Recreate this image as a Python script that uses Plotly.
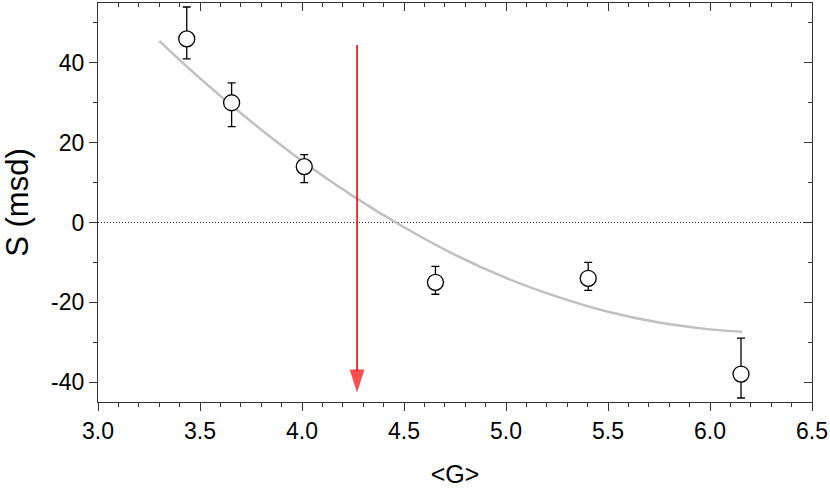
import plotly.graph_objects as go

# data points
g_vals = [3.435, 3.655, 4.011, 4.654, 5.403, 6.152]
s_vals = [46, 30, 14, -15, -14, -38]
err_plus = [8, 5, 3, 4, 4, 9]
err_minus = [5, 6, 4, 3, 3, 6]

# fitted curve
curve_x = [3.3, 3.5, 3.75, 4.0, 4.25, 4.5, 4.75, 5.0, 5.25, 5.5, 5.75, 6.0, 6.157]
curve_y = [45.5, 36.1, 25.3, 15.4, 6.6, -1.2, -8.1, -13.9, -18.6, -22.4, -25.1, -26.8, -27.4]

# arrow
arrow_x = [4.27, 4.27]
arrow_y = [44.5, -42.6]

x_range = [3.0, 6.5]
y_range = [-45, 55]
x_ticks = [3.0, 3.5, 4.0, 4.5, 5.0, 5.5, 6.0, 6.5]
x_ticklabels = ["3.0", "3.5", "4.0", "4.5", "5.0", "5.5", "6.0", "6.5"]
y_ticks = [-40, -20, 0, 20, 40]
y_ticklabels = ["-40", "-20", "0", "20", "40"]

font_family = "Liberation Sans, Arial, sans-serif"

fig = go.Figure()

# zero dotted line
fig.add_trace(go.Scatter(x=x_range, y=[0, 0], mode="lines",
                         line=dict(color="#222222", width=1, dash="1px,2px"),
                         hoverinfo="skip", showlegend=False))

# curve
fig.add_trace(go.Scatter(x=curve_x, y=curve_y, mode="lines", line_shape="spline",
                         line=dict(color="#c0c0c0", width=2.5), showlegend=False))

# red arrow
fig.add_trace(go.Scatter(x=arrow_x, y=arrow_y, mode="lines+markers",
                         line=dict(color="#ff0000", width=1.6),
                         marker=dict(symbol=["circle", "arrow"], size=[0, 24],
                                     angleref="previous", color="#ff0000",
                                     line=dict(width=0)),
                         hoverinfo="skip", showlegend=False))

# data points
fig.add_trace(go.Scatter(
    x=g_vals, y=s_vals, mode="markers",
    marker=dict(symbol="circle", size=16, color="white",
                line=dict(color="black", width=1.3)),
    error_y=dict(type="data", symmetric=False, array=err_plus, arrayminus=err_minus,
                 color="black", thickness=1.3, width=4),
    showlegend=False))

# invisible traces for mirror axes
fig.add_trace(go.Scatter(x=x_range, y=y_range, xaxis="x2", yaxis="y2", mode="markers",
                         marker=dict(opacity=0), hoverinfo="skip", showlegend=False))

axis_common = dict(showline=True, linecolor="#333333", linewidth=1.3, showgrid=False,
                   zeroline=False, tickcolor="#333333", tickwidth=1.3, automargin=False)

fig.update_layout(
    width=830, height=488,
    margin=dict(l=98, r=18, t=3, b=86),
    paper_bgcolor="white", plot_bgcolor="white",
    font=dict(family=font_family, color="black", size=23),
    xaxis=dict(range=x_range, tickvals=x_ticks, ticktext=x_ticklabels,
               ticks="outside", ticklen=8, tickfont=dict(size=23),
               minor=dict(dtick=0.1, ticks="outside", ticklen=4, tickcolor="#333333", tickwidth=1.3),
               title=dict(text="&lt;G&gt;", font=dict(size=25), standoff=22),
               **axis_common),
    yaxis=dict(range=y_range, tickvals=y_ticks, ticktext=y_ticklabels,
               ticks="outside", ticklen=8, tickfont=dict(size=23),
               minor=dict(dtick=10, ticks="outside", ticklen=4, tickcolor="#333333", tickwidth=1.3),
               title=dict(text="S (msd)", font=dict(size=31), standoff=15),
               **axis_common),
    xaxis2=dict(range=x_range, overlaying="x", side="top", tickvals=x_ticks,
                showticklabels=False, ticks="inside", ticklen=8,
                minor=dict(dtick=0.1, ticks="inside", ticklen=4, tickcolor="#333333", tickwidth=1.3),
                **axis_common),
    yaxis2=dict(range=y_range, overlaying="y", side="right", tickvals=y_ticks,
                showticklabels=False, ticks="inside", ticklen=8,
                minor=dict(dtick=10, ticks="inside", ticklen=4, tickcolor="#333333", tickwidth=1.3),
                **axis_common),
)

fig.write_html("out.html", config={"displayModeBar": False},
               post_script="document.body.style.margin='0';")
